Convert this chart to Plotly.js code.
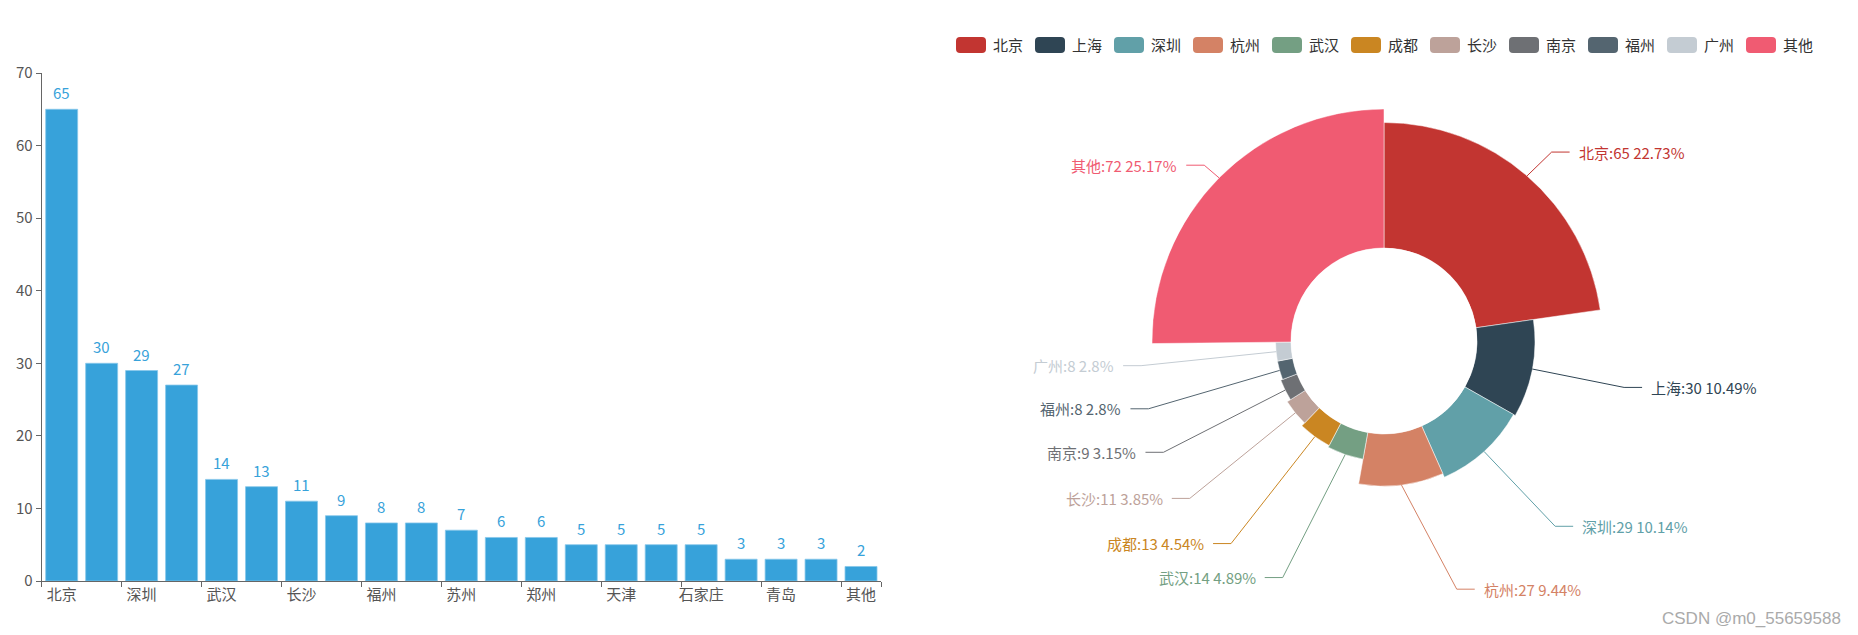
<!DOCTYPE html>
<html>
<head>
<meta charset="utf-8">
<script src="https://cdn.plot.ly/plotly-3.0.1.min.js"></script>
<style>
  html, body { margin: 0; padding: 0; background: #fff; }
  #chart { width: 1858px; height: 635px; }
</style>
</head>
<body>
<div id="chart"></div>
<script>
// left: city counts as bars; right: rose pie of the top cities + 其他

const barCities = ['北京', '上海', '深圳', '杭州', '武汉', '成都', '长沙', '南京', '福州', '广州',
  '苏州', '西安', '郑州', '重庆', '天津', '厦门', '石家庄', '合肥', '青岛', '济南', '其他'];
const barCounts = [65, 30, 29, 27, 14, 13, 11, 9, 8, 8, 7, 6, 6, 5, 5, 5, 5, 3, 3, 3, 2];

const pieCities = ['北京', '上海', '深圳', '杭州', '武汉', '成都', '长沙', '南京', '福州', '广州', '其他'];
const pieCounts = [65, 30, 29, 27, 14, 13, 11, 9, 8, 8, 72];

const PALETTE = ['#c23531', '#2f4554', '#61a0a8', '#d48265', '#749f83', '#ca8622',
  '#bda29a', '#6e7074', '#546570', '#c4ccd3', '#f05b72'];
const BAR_COLOR = '#37a2da';
const FONT = '"Microsoft YaHei", "Noto Sans CJK SC", sans-serif';

const W = 1858, H = 635;
const px = (x) => x / W;
const py = (y) => 1 - y / H;

// pie geometry in page pixels
const CX = 1384, CY = 341, R = 232, R0 = 93;
const LEN = 18, LEN2 = 18, TEXT_GAP = 7;
const ELL_A = 244, ELL_B = 260;

// percentages with the largest remainder method, 2 decimals
function percents(values) {
  const total = values.reduce((a, b) => a + b, 0);
  const quota = values.map((v) => v / total * 10000);
  const seats = quota.map(Math.floor);
  const rem = quota.map((q, i) => q - seats[i]);
  let sum = seats.reduce((a, b) => a + b, 0);
  while (sum < 10000) {
    let best = 0;
    for (let i = 1; i < rem.length; i++) if (rem[i] > rem[best]) best = i;
    seats[best]++; rem[best] = 0; sum++;
  }
  return seats.map((s) => +(s / 100).toFixed(2));
}

const pieTotal = pieCounts.reduce((a, b) => a + b, 0);
const pieMax = Math.max(...pieCounts);
const pct = percents(pieCounts);
const widths = pieCounts.map((v) => v / pieTotal * 360);
const mids = [];
let acc = 0;
widths.forEach((w) => { mids.push(acc + w / 2); acc += w; });

const traces = [
  {
    type: 'bar', x: barCities, y: barCounts, xaxis: 'x', yaxis: 'y',
    marker: { color: BAR_COLOR, line: { color: '#86c6ea', width: 0.8 } },
    hoverinfo: 'x+y', showlegend: false,
  },
  {
    type: 'barpolar', subplot: 'polar',
    r: pieCounts, theta: mids, width: widths, text: pieCities,
    marker: { color: PALETTE, line: { color: '#fff', width: 0.5 } },
    hoverinfo: 'text+r', showlegend: false,
  },
];

const annotations = barCities.map((c, i) => ({
  x: c, y: barCounts[i], xref: 'x', yref: 'y', yanchor: 'bottom', yshift: 4,
  text: String(barCounts[i]), showarrow: false,
  font: { family: FONT, size: 15, color: BAR_COLOR },
}));

const shapes = [];

// pie labels with two-segment leader lines
pieCities.forEach((name, i) => {
  const a = mids[i] * Math.PI / 180;
  const s = Math.sin(a), c = Math.cos(a);
  const dir = s < 0 ? -1 : 1;
  const rItem = R0 + (R - R0) * pieCounts[i] / pieMax;
  const x1 = CX + rItem * s, y1 = CY - rItem * c;
  const ly = CY - (R + LEN) * c;
  const dy = Math.abs(ly - CY);
  const ex = CX + dir * ELL_A * Math.sqrt(Math.max(0, 1 - dy * dy / (ELL_B * ELL_B)));
  const x3 = ex + dir * LEN2;
  shapes.push({
    type: 'path', xref: 'paper', yref: 'paper',
    path: `M${px(x1)},${py(y1)} L${px(ex)},${py(ly)} L${px(x3)},${py(ly)}`,
    line: { color: PALETTE[i], width: 1 }, fillcolor: 'rgba(0,0,0,0)',
  });
  annotations.push({
    x: px(x3 + dir * TEXT_GAP), y: py(ly), xref: 'paper', yref: 'paper',
    xanchor: dir > 0 ? 'left' : 'right', yanchor: 'middle', showarrow: false,
    text: `${name}:${pieCounts[i]} ${pct[i]}%`,
    font: { family: FONT, size: 15, color: PALETTE[i] },
  });
});

// legend row, centred over the pie
const ctx = document.createElement('canvas').getContext('2d');
ctx.font = '15px "Microsoft YaHei", "Noto Sans CJK SC"';
const ICON_W = 30, ICON_H = 16, ICON_GAP = 6, ITEM_GAP = 13, LEGEND_Y = 45;
const itemW = pieCities.map((n) => ICON_W + ICON_GAP + ctx.measureText(n).width);
const legendW = itemW.reduce((a, b) => a + b, 0) + ITEM_GAP * (pieCities.length - 1);
let lx = CX - legendW / 2;
function roundRect(w, h, r) {
  const x0 = -w / 2, x1 = w / 2, y0 = -h / 2, y1 = h / 2;
  return `M${x0 + r},${y0} L${x1 - r},${y0} Q${x1},${y0} ${x1},${y0 + r} L${x1},${y1 - r} ` +
    `Q${x1},${y1} ${x1 - r},${y1} L${x0 + r},${y1} Q${x0},${y1} ${x0},${y1 - r} ` +
    `L${x0},${y0 + r} Q${x0},${y0} ${x0 + r},${y0} Z`;
}
pieCities.forEach((name, i) => {
  shapes.push({
    type: 'path', xref: 'paper', yref: 'paper', xsizemode: 'pixel', ysizemode: 'pixel',
    xanchor: px(lx + ICON_W / 2), yanchor: py(LEGEND_Y),
    path: roundRect(ICON_W, ICON_H, 4), fillcolor: PALETTE[i], line: { width: 0 },
  });
  annotations.push({
    x: px(lx + ICON_W + ICON_GAP), y: py(LEGEND_Y), xref: 'paper', yref: 'paper',
    xanchor: 'left', yanchor: 'middle', showarrow: false, borderpad: 0,
    text: name, font: { family: FONT, size: 15, color: '#333' },
  });
  lx += itemW[i] + ITEM_GAP;
});

annotations.push({
  x: px(1843), y: py(618), xref: 'paper', yref: 'paper', xanchor: 'right', yanchor: 'middle',
  showarrow: false, text: 'CSDN @m0_55659588',
  font: { family: '"Liberation Sans", Arial, sans-serif', size: 17, color: '#aaa' },
});

const layout = {
  width: W, height: H,
  margin: { l: 0, r: 0, t: 0, b: 0 },
  paper_bgcolor: '#fff', plot_bgcolor: '#fff',
  font: { family: FONT, size: 15, color: '#555' },
  bargap: 0.2,
  xaxis: {
    domain: [px(41.7), px(881)], type: 'category',
    tickmode: 'array', tickvals: barCities.filter((_, i) => i % 2 === 0),
    tickson: 'boundaries', ticks: 'outside', ticklen: 5, tickcolor: '#666', tickangle: 0,
    showline: true, linecolor: '#666', linewidth: 1, showgrid: false,
    tickfont: { family: FONT, size: 15, color: '#555' }, fixedrange: true,
  },
  yaxis: {
    domain: [py(581), py(73)], range: [0, 70], dtick: 10,
    ticks: 'outside', ticklen: 5, tickcolor: '#666',
    showline: true, linecolor: '#666', linewidth: 1, showgrid: false, zeroline: false,
    tickfont: { family: FONT, size: 15, color: '#555' }, fixedrange: true,
  },
  polar: {
    domain: { x: [px(CX - R), px(CX + R)], y: [py(CY + R), py(CY - R)] },
    hole: R0 / R, bgcolor: 'rgba(0,0,0,0)',
    radialaxis: { visible: false, range: [0, pieMax] },
    angularaxis: { visible: false, direction: 'clockwise', rotation: 90 },
  },
  shapes, annotations,
  showlegend: false,
};

Plotly.newPlot('chart', traces, layout, { displayModeBar: false, responsive: false });
</script>
</body>
</html>
